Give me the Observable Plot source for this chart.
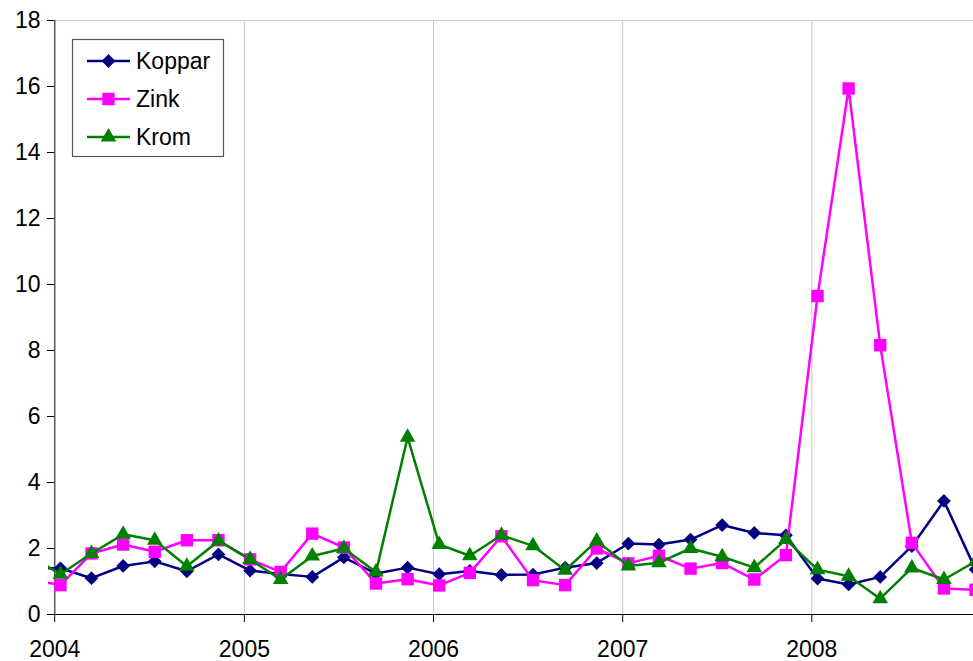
<!DOCTYPE html>
<html>
<head>
<meta charset="utf-8">
<script src="https://cdn.jsdelivr.net/npm/d3@7"></script>
<script src="https://cdn.jsdelivr.net/npm/@observablehq/plot@0.6"></script>
<style>
  html, body { margin: 0; padding: 0; background: #fff; }
  #chart { width: 973px; height: 661px; }
</style>
</head>
<body>
<div id="chart"></div>
<script>
// ---- data (bimonthly samples) ----
const dates = [
  "2003-11-12",
  "2004-01-12","2004-03-12","2004-05-12","2004-07-12","2004-09-12","2004-11-12",
  "2005-01-12","2005-03-12","2005-05-12","2005-07-12","2005-09-12","2005-11-12",
  "2006-01-12","2006-03-12","2006-05-12","2006-07-12","2006-09-12","2006-11-12",
  "2007-01-12","2007-03-12","2007-05-12","2007-07-12","2007-09-12","2007-11-12",
  "2008-01-12","2008-03-12","2008-05-12","2008-07-12","2008-09-12","2008-11-12"
];
const koppar = [1.40,
  1.40,1.10,1.47,1.61,1.31,1.82,
  1.33,1.23,1.14,1.73,1.24,1.42,
  1.22,1.32,1.20,1.21,1.42,1.56,
  2.15,2.12,2.27,2.71,2.47,2.40,
  1.09,0.91,1.14,2.07,3.44,1.36];
const zink = [1.08,
  0.89,1.85,2.12,1.90,2.25,2.25,
  1.67,1.29,2.45,2.03,0.94,1.07,
  0.88,1.26,2.37,1.04,0.89,2.00,
  1.55,1.78,1.39,1.56,1.06,1.80,
  9.65,15.94,8.16,2.17,0.79,0.75];
const krom = [1.80,
  1.22,1.85,2.43,2.25,1.46,2.23,
  1.67,1.06,1.77,2.00,1.29,5.37,
  2.12,1.78,2.40,2.08,1.34,2.23,
  1.47,1.57,2.00,1.75,1.42,2.27,
  1.36,1.16,0.48,1.41,1.06,1.61];
const seriesNames = ["Koppar", "Zink", "Krom"];
const seriesColors = ["#000080", "#FF00FF", "#008000"];
const seriesSymbols = ["diamond2", "square", "triangle"];
const seriesR = [6.2, 7.0, 5.8];
const yTicks = [0, 2, 4, 6, 8, 10, 12, 14, 16, 18];
const yearTicks = ["2004-01-01", "2005-01-01", "2006-01-01", "2007-01-01", "2008-01-01"];

// ---- build tables ----
const parse = d3.utcParse("%Y-%m-%d");
const values = [koppar, zink, krom];
const rows = seriesNames.map((name, i) =>
  dates.map((d, j) => ({ series: name, date: parse(d), value: values[i][j] }))
);
const years = yearTicks.map(parse);
const xStart = parse("2003-12-20");
const xEnd = parse("2008-11-08");

const seriesMarks = [];
seriesNames.forEach((name, i) => {
  seriesMarks.push(Plot.line(rows[i], {
    x: "date", y: "value", stroke: seriesColors[i], strokeWidth: 2.5, clip: true
  }));
  seriesMarks.push(Plot.dot(rows[i], {
    x: "date", y: "value", symbol: seriesSymbols[i], r: seriesR[i],
    fill: seriesColors[i], stroke: "none", clip: true
  }));
});

const chart = Plot.plot({
  width: 973,
  height: 661,
  marginLeft: 48,
  marginRight: 0,
  marginTop: 20,
  marginBottom: 47,
  style: { fontFamily: "'Liberation Sans', Arial, sans-serif", fontSize: "23px", color: "#000", background: "#fff", overflow: "visible" },
  x: { type: "utc", domain: [xStart, xEnd] },
  y: { domain: [0, 18] },
  marks: [
    Plot.ruleX(years.slice(1), { stroke: "#c8c8c8", strokeWidth: 1 }),
    Plot.ruleY([18], { x1: years[0], x2: xEnd, stroke: "#c8c8c8", strokeWidth: 1 }),
    Plot.axisX({ ticks: years, tickFormat: d3.utcFormat("%Y"), tickSize: 8, tickPadding: 18, label: null, stroke: "#000" }),
    Plot.axisY({ ticks: yTicks, tickSize: 7, tickPadding: 7, dx: 6, label: null, stroke: "#000" }),
    Plot.ruleY([0], { x1: years[0], x2: xEnd, stroke: "#000", strokeWidth: 1 }),
    Plot.ruleX([years[0]], { y1: 0, y2: 18, stroke: "#555", strokeWidth: 1.5 }),
    ...seriesMarks
  ]
});
document.getElementById("chart").appendChild(chart);

// ---- legend (drawn into the same svg) ----
const svg = d3.select(chart);
const lg = svg.append("g").attr("class", "legend").attr("text-anchor", "start");
lg.append("rect")
  .attr("x", 72.5).attr("y", 39.5).attr("width", 151).attr("height", 117)
  .attr("fill", "#fff").attr("stroke", "#555").attr("stroke-width", 1.2);
const symbolTypes = { diamond2: d3.symbolDiamond2, square: d3.symbolSquare, triangle: d3.symbolTriangle };
const rowY = [61, 99, 137];
seriesNames.forEach((name, i) => {
  const y = rowY[i];
  lg.append("line").attr("x1", 87).attr("x2", 130).attr("y1", y).attr("y2", y)
    .attr("stroke", seriesColors[i]).attr("stroke-width", 2.5);
  lg.append("path")
    .attr("d", d3.symbol(symbolTypes[seriesSymbols[i]], Math.PI * seriesR[i] * seriesR[i])())
    .attr("transform", `translate(108.5,${y})`)
    .attr("fill", seriesColors[i]);
  lg.append("text").attr("x", 136).attr("y", y + 8.2)
    .attr("text-anchor", "start")
    .attr("font-family", "'Liberation Sans', Arial, sans-serif").attr("font-size", 23)
    .attr("fill", "#000").text(name);
});
</script>
</body>
</html>
